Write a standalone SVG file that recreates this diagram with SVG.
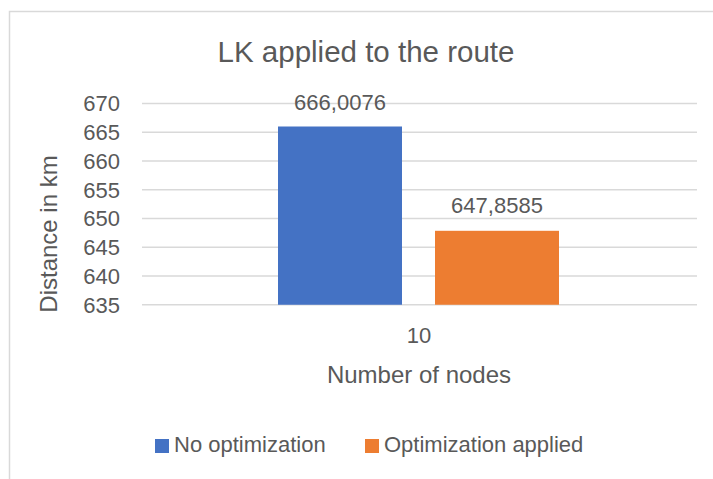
<svg xmlns="http://www.w3.org/2000/svg" width="713" height="479" viewBox="0 0 713 479">
  <style>
    text { font-family: "Liberation Sans", Arial, sans-serif; fill: #595959; }
    .grid { stroke: #d9d9d9; stroke-width: 1.5; fill: none; }
    .tick { font-size: 22px; text-anchor: end; }
    .dlabel { font-size: 22px; text-anchor: middle; }
    .axtitle { font-size: 24px; text-anchor: middle; }
    .legend { font-size: 22px; }
  </style>

  <!-- chart area -->
  <rect x="0" y="0" width="713" height="479" fill="#ffffff"/>
  <path d="M9.5,479 V11.5 H713" fill="none" stroke="#d9d9d9" stroke-width="1.5"/>

  <!-- title -->
  <g id="title">
    <text x="366" y="62" font-size="29.5" text-anchor="middle">LK applied to the route</text>
  </g>

  <!-- value axis gridlines and labels -->
  <g id="gridlines">
    <line class="grid" x1="142" y1="103.5" x2="697" y2="103.5"/>
    <line class="grid" x1="142" y1="132.25" x2="697" y2="132.25"/>
    <line class="grid" x1="142" y1="161" x2="697" y2="161"/>
    <line class="grid" x1="142" y1="189.75" x2="697" y2="189.75"/>
    <line class="grid" x1="142" y1="218.5" x2="697" y2="218.5"/>
    <line class="grid" x1="142" y1="247.25" x2="697" y2="247.25"/>
    <line class="grid" x1="142" y1="276" x2="697" y2="276"/>
    <line class="grid" x1="142" y1="304.75" x2="697" y2="304.75"/>
  </g>
  <g id="value-axis">
    <text class="tick" x="120" y="111.3">670</text>
    <text class="tick" x="120" y="140">665</text>
    <text class="tick" x="120" y="168.8">660</text>
    <text class="tick" x="120" y="197.5">655</text>
    <text class="tick" x="120" y="226.3">650</text>
    <text class="tick" x="120" y="255">645</text>
    <text class="tick" x="120" y="283.8">640</text>
    <text class="tick" x="120" y="312.5">635</text>
    <text class="axtitle" transform="translate(57,234) rotate(-90)">Distance in km</text>
  </g>

  <!-- series bars -->
  <g id="series-no-optimization">
    <rect x="278" y="126.5" width="124" height="178.25" fill="#4472c4"/>
    <text class="dlabel" x="340" y="110">666,0076</text>
  </g>
  <g id="series-optimization-applied">
    <rect x="435" y="230.8" width="124" height="73.95" fill="#ed7d31"/>
    <text class="dlabel" x="497" y="213.3">647,8585</text>
  </g>

  <!-- category axis -->
  <g id="category-axis">
    <text x="419" y="342.7" font-size="22" text-anchor="middle">10</text>
    <text class="axtitle" x="419" y="383">Number of nodes</text>
  </g>

  <!-- legend -->
  <g id="legend">
    <rect x="155" y="439" width="14" height="14" fill="#4472c4"/>
    <text class="legend" x="174" y="452.3">No optimization</text>
    <rect x="365" y="439" width="14" height="14" fill="#ed7d31"/>
    <text class="legend" x="384" y="452.3">Optimization applied</text>
  </g>
</svg>
